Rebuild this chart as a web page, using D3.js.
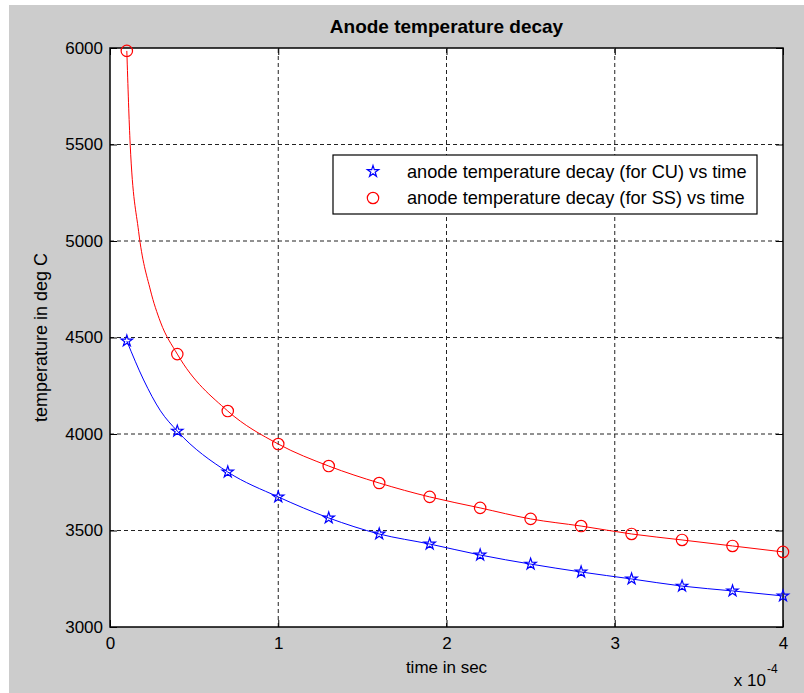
<!DOCTYPE html>
<html>
<head>
  <meta charset="utf-8">
  <title>Anode temperature decay</title>
  <script src="https://d3js.org/d3.v7.min.js"></script>
  <style>
    body {
      margin: 0;
      background: #ffffff;
    }
    svg text {
      font-family: "Liberation Sans", Arial, sans-serif;
      fill: #000;
    }
    .grid line {
      stroke: #222;
      stroke-width: 1;
      stroke-dasharray: 4,3;
    }
  </style>
</head>
<body>
  <div id="chart"></div>
  <script>
    // time in units of 1e-4 sec, marker positions
    var markTime = [0.1, 0.4, 0.7, 1.0, 1.3, 1.6, 1.9, 2.2, 2.5, 2.8, 3.1, 3.4, 3.7, 4.0];
    var cuTemp = [4482, 4015, 3803, 3674, 3565, 3482, 3430, 3373, 3326, 3285, 3249, 3212, 3187, 3161];
    var ssTemp = [5985, 4414, 4119, 3948, 3834, 3746, 3674, 3617, 3560, 3523, 3482, 3451, 3420, 3389];

    // extra points on the steep start of each curve
    var cuStartTime = [0.2, 0.3];
    var cuStartTemp = [4280, 4120];
    var ssStartTime = [0.12, 0.17, 0.24, 0.3];
    var ssStartTemp = [5500, 5050, 4746, 4580];

    var xTicks = [0, 1, 2, 3, 4];
    var yTicks = [3000, 3500, 4000, 4500, 5000, 5500, 6000];

    var legendLabels = [
      "anode temperature decay (for CU) vs time",
      "anode temperature decay (for SS) vs time"
    ];

    var W = 804, H = 693;
    var margin = {left: 110, top: 48, right: 21, bottom: 66};

    var svg = d3.select("#chart")
      .append("svg")
      .attr("width", W)
      .attr("height", H);

    // figure background
    svg.append("rect")
      .attr("x", 9).attr("y", 5)
      .attr("width", W - 9).attr("height", H - 5)
      .attr("fill", "#cccccc");

    var x = d3.scaleLinear().domain([0, 4]).range([margin.left, W - margin.right]);
    var y = d3.scaleLinear().domain([3000, 6000]).range([H - margin.bottom, margin.top]);

    // plot area
    svg.append("rect")
      .attr("x", x(0)).attr("y", y(6000))
      .attr("width", x(4) - x(0)).attr("height", y(3000) - y(6000))
      .attr("fill", "#ffffff");

    // grid
    var grid = svg.append("g").attr("class", "grid");
    grid.selectAll(".gx")
      .data(xTicks.slice(1, -1))
      .enter().append("line")
      .attr("x1", function(d) { return x(d); })
      .attr("x2", function(d) { return x(d); })
      .attr("y1", y(3000)).attr("y2", y(6000));
    grid.selectAll(".gy")
      .data(yTicks.slice(1, -1))
      .enter().append("line")
      .attr("y1", function(d) { return y(d); })
      .attr("y2", function(d) { return y(d); })
      .attr("x1", x(0)).attr("x2", x(4));

    // axes (inward ticks)
    svg.append("g")
      .attr("transform", "translate(0," + y(3000) + ")")
      .call(d3.axisBottom(x).tickValues(xTicks).tickFormat(d3.format("d"))
        .tickSizeInner(-7).tickSizeOuter(0).tickPadding(10));
    svg.append("g")
      .attr("transform", "translate(" + x(0) + ",0)")
      .call(d3.axisLeft(y).tickValues(yTicks).tickFormat(d3.format("d"))
        .tickSizeInner(-7).tickSizeOuter(0).tickPadding(7));
    svg.append("g")
      .attr("transform", "translate(0," + y(6000) + ")")
      .call(d3.axisTop(x).tickValues(xTicks).tickFormat("")
        .tickSizeInner(-7).tickSizeOuter(0));
    svg.append("g")
      .attr("transform", "translate(" + x(4) + ",0)")
      .call(d3.axisRight(y).tickValues(yTicks).tickFormat("")
        .tickSizeInner(-7).tickSizeOuter(0));

    svg.selectAll(".domain").remove();
    svg.selectAll(".tick line").attr("stroke", "#000");
    svg.selectAll(".tick text")
      .style("font-size", "17px")
      .attr("fill", "#000");

    // box
    svg.append("rect")
      .attr("x", x(0)).attr("y", y(6000))
      .attr("width", x(4) - x(0)).attr("height", y(3000) - y(6000))
      .attr("fill", "none")
      .attr("stroke", "#000")
      .attr("stroke-width", 1.5);

    // build line data
    function lineData(tMarks, vMarks, tExtra, vExtra) {
      var pts = tMarks.map(function(t, i) { return {t: t, v: vMarks[i]}; });
      tExtra.forEach(function(t, i) { pts.push({t: t, v: vExtra[i]}); });
      pts.sort(function(a, b) { return a.t - b.t; });
      return pts;
    }
    var cuLine = lineData(markTime, cuTemp, cuStartTime, cuStartTemp);
    var ssLine = lineData(markTime, ssTemp, ssStartTime, ssStartTemp);

    var line = d3.line()
      .x(function(d) { return x(d.t); })
      .y(function(d) { return y(d.v); })
      .curve(d3.curveMonotoneX);

    svg.append("path")
      .datum(cuLine)
      .attr("d", line)
      .attr("fill", "none")
      .attr("stroke", "#0000ff")
      .attr("stroke-width", 1);

    svg.append("path")
      .datum(ssLine)
      .attr("d", line)
      .attr("fill", "none")
      .attr("stroke", "#ff0000")
      .attr("stroke-width", 1);

    var star = d3.symbol().type(d3.symbolStar).size(40);

    svg.selectAll(".cu-mark")
      .data(markTime)
      .enter().append("path")
      .attr("class", "cu-mark")
      .attr("d", star)
      .attr("transform", function(d, i) { return "translate(" + x(d) + "," + y(cuTemp[i]) + ")"; })
      .attr("fill", "none")
      .attr("stroke", "#0000ff")
      .attr("stroke-width", 1.2);

    svg.selectAll(".ss-mark")
      .data(markTime)
      .enter().append("circle")
      .attr("class", "ss-mark")
      .attr("cx", function(d) { return x(d); })
      .attr("cy", function(d, i) { return y(ssTemp[i]); })
      .attr("r", 5.7)
      .attr("fill", "none")
      .attr("stroke", "#ff0000")
      .attr("stroke-width", 1.2);

    // title and labels
    svg.append("text")
      .attr("x", (x(0) + x(4)) / 2)
      .attr("y", 33)
      .attr("text-anchor", "middle")
      .style("font-size", "19px")
      .style("font-weight", "bold")
      .text("Anode temperature decay");

    svg.append("text")
      .attr("x", (x(0) + x(4)) / 2)
      .attr("y", 673)
      .attr("text-anchor", "middle")
      .style("font-size", "17px")
      .text("time in sec");

    svg.append("text")
      .attr("transform", "translate(47," + ((y(3000) + y(6000)) / 2) + ") rotate(-90)")
      .attr("text-anchor", "middle")
      .style("font-size", "18px")
      .text("temperature in deg C");

    svg.append("text")
      .attr("x", 766)
      .attr("y", 686)
      .attr("text-anchor", "end")
      .style("font-size", "17px")
      .text("x 10");
    svg.append("text")
      .attr("x", 767)
      .attr("y", 673)
      .style("font-size", "12px")
      .text("-4");

    // legend
    var lg = svg.append("g");
    lg.append("rect")
      .attr("x", 333).attr("y", 155)
      .attr("width", 424).attr("height", 59)
      .attr("fill", "#ffffff")
      .attr("stroke", "#000")
      .attr("stroke-width", 1.2);
    var rowY = [171.5, 198];
    lg.append("path")
      .attr("d", star)
      .attr("transform", "translate(373," + rowY[0] + ")")
      .attr("fill", "none")
      .attr("stroke", "#0000ff")
      .attr("stroke-width", 1.2);
    lg.append("circle")
      .attr("cx", 373).attr("cy", rowY[1]).attr("r", 5.7)
      .attr("fill", "none")
      .attr("stroke", "#ff0000")
      .attr("stroke-width", 1.2);
    lg.selectAll(".lt")
      .data(legendLabels)
      .enter().append("text")
      .attr("x", 407)
      .attr("y", function(d, i) { return rowY[i]; })
      .attr("dy", "0.35em")
      .style("font-size", "18.2px")
      .text(function(d) { return d; });
  </script>
</body>
</html>
